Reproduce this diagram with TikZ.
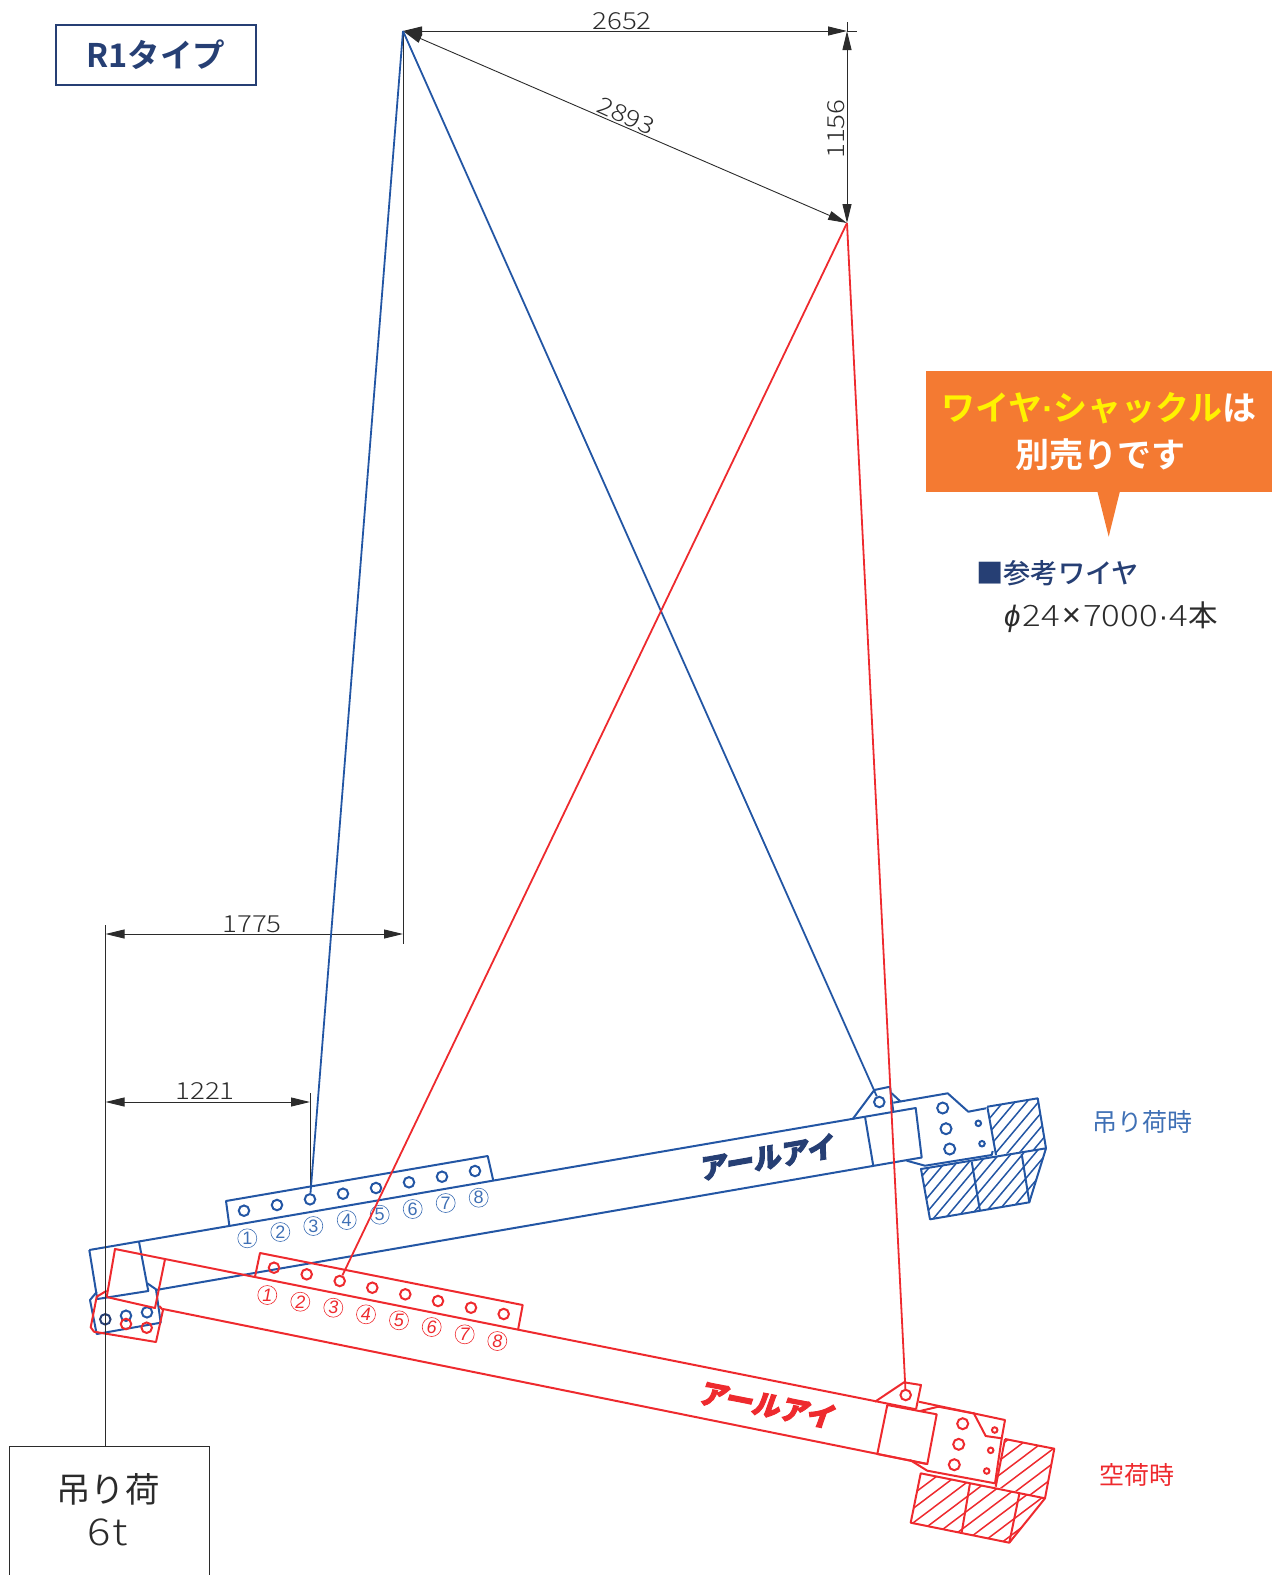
\documentclass[tikz,border=0pt]{standalone}
\usepackage{fontspec}
\usetikzlibrary{arrows.meta}
\setmainfont{Liberation Sans}
\newfontfamily\jp{Noto Sans CJK JP}
\newfontfamily\jpm{Noto Sans CJK JP Medium}
\newfontfamily\jpb{Noto Sans CJK JP Bold}
\newfontfamily\jplogo{Noto Sans CJK JP Black}[FakeBold=3.5]
\newfontfamily\num{Noto Sans CJK JP Light}[FakeStretch=1.18]
\newfontfamily\numit{Liberation Sans Italic}
\newfontfamily\latb{Liberation Sans Bold}
\definecolor{wblue}{HTML}{2356A4}
\definecolor{wred}{HTML}{EE2A2E}
\definecolor{navy}{HTML}{263F74}
\definecolor{dimc}{HTML}{2B2B2B}
\definecolor{orng}{HTML}{F47A32}
\definecolor{lblue}{HTML}{3F70B5}
\newcommand{\fs}[1]{\fontsize{#1pt}{#1pt}\selectfont}
\newcommand{\hatchpoly}[5]{% colour, polygon, centre, angle, spacing
  \begin{scope}
    \clip #2;
    \foreach \k in {-14,...,14}
      \draw[#1,line width=1.5pt,shift={#3},rotate=#4] (-160,\k*#5) -- (160,\k*#5);
  \end{scope}}
\tikzset{
  bl/.style={draw=wblue,line width=2pt,line join=round},
  rd/.style={draw=wred,line width=2pt,line join=round},
  dimline/.style={draw=dimc,line width=0.9pt},
  dimarrow/.style={dimline,{Triangle[length=19pt,width=9pt]}-{Triangle[length=19pt,width=9pt]}},
  dimtext/.style={text=dimc,font=\num\fs{23.5}},
  hole/.style={circle,inner sep=0pt,minimum size=#1,line width=2pt},
  cnum/.style={circle,draw,inner sep=0pt,minimum size=19pt,line width=0.6pt,font=\fs{18}},
}
\begin{document}
\begin{tikzpicture}[x=1pt,y=-1pt]
\useasboundingbox (0,0) rectangle (1272,1575);
% key points
\coordinate (apexB) at (403,31);
\coordinate (apexR) at (847,223);
\coordinate (dimTR) at (847,31);
\coordinate (dimTRx) at (857,31);
\coordinate (dimTRt) at (847,22);
\coordinate (apexFoot) at (403,944);
\coordinate (d17L) at (105.5,934);
\coordinate (d17R) at (403,934);
\coordinate (d12L) at (105.5,1102);
\coordinate (d12R) at (310,1102);
\coordinate (v12t) at (310,1093);
\coordinate (vLt) at (105.5,925);
\coordinate (vLb) at (105.5,1447);

% ---------- blue assembly
\draw[bl] (89.3,1250) -- (915.7,1108) -- (921.7,1157.5) -- (156,1290);
\draw[bl] (139,1241.7) -- (148.3,1291) -- (97.3,1299) -- (89.3,1250);
\draw[bl] (96.7,1292) -- (90,1300) -- (96.7,1334) -- (160.7,1322.7) -- (156,1289.3) -- (147.3,1283.3);
\draw[bl] (229.3,1225.3) -- (226,1201) -- (487.7,1156) -- (493.3,1180.7);
\draw[bl] (865,1116.7) -- (873.3,1166);
\draw[bl] (852.7,1119) -- (874.3,1090) -- (890,1086.7) -- (893.3,1111.7);
\draw[bl] (891.7,1093.3) -- (900.7,1101.7);
\draw[bl] (893.3,1102.7) -- (947.7,1093.3) -- (968.3,1111.7) -- (986,1108.3);
\draw[bl] (906.7,1160.7) -- (925,1165.7) -- (991.7,1155) -- (992.7,1151);
\hatchpoly{wblue}{(987.3,1106.7) -- (1037.7,1098.3) -- (1046,1148.3) -- (996,1155) -- cycle}{(1015,1130)}{50}{9}
\hatchpoly{wblue}{(921,1169) -- (1046,1148.3) -- (1029.3,1202.3) -- (930,1219.3) -- cycle}{(985,1185)}{50}{9}
\draw[bl] (987.3,1106.7) -- (1037.7,1098.3) -- (1046,1148.3) -- (921,1169) -- (930,1219.3) -- (1029.3,1202.3) -- (1046,1148.3);
\draw[bl] (987.3,1106.7) -- (996,1155);
\draw[bl] (971.7,1161.7) -- (980,1211);
\draw[bl] (1021.7,1154) -- (1029.3,1202.3);
\foreach \n/\x/\y in {1/244/1210.7,2/277/1205,3/310/1199.3,4/343/1193.7,5/376/1188,6/409/1182.3,7/442/1176.7,8/475/1171}
  \node[hole=10.5pt,draw=wblue] (bh\n) at (\x,\y) {};
\foreach \n/\x/\y in {1/247.3/1238.3,2/280.3/1232,3/313.3/1226,4/346.7/1220,5/379.7/1214.7,6/412.7/1209,7/445.7/1203,8/478.7/1197.7}
  \node[cnum,draw=lblue,text=lblue] (bn\n) at (\x,\y) {\n};
\node[hole=10.5pt,draw=navy] (bp1) at (105.3,1319.3) {};
\node[hole=10.5pt,draw=wblue] (bp2) at (126,1315.7) {};
\node[hole=10.5pt,draw=wblue] (bp3) at (147,1312.3) {};
\node[hole=10.5pt,draw=wblue] (blug) at (879.3,1102) {};
\node[hole=11pt,draw=wblue] (bb1) at (942.7,1108) {};
\node[hole=11pt,draw=wblue] (bb2) at (946,1128.7) {};
\node[hole=11pt,draw=wblue] (bb3) at (949.7,1149) {};
\node[hole=5.5pt,draw=wblue] (bs1) at (978.3,1123.3) {};
\node[hole=5.5pt,draw=wblue] (bs2) at (982,1143.7) {};
\node[text=navy,font=\jplogo\fs{28},rotate=10,inner sep=0pt,xslant=0.15] (blogo) at (768,1157) {アールアイ};

% ---------- red assembly
\draw[rd] (106.7,1297) -- (115,1249) -- (916,1409.3);
\draw[rd] (163,1309) -- (927.3,1464);
\draw[rd] (106.7,1297) -- (155,1308) -- (165,1259.3);
\draw[rd] (106.7,1290.7) -- (96.7,1296.7) -- (90.7,1327.3) -- (94,1331.7) -- (156,1342) -- (163,1310) -- (159.3,1306);
\draw[rd] (255,1276.7) -- (260,1253) -- (522.7,1305) -- (518,1330);
\draw[rd] (887.3,1405) -- (936.7,1414.3) -- (927.3,1464) -- (877.3,1454) -- cycle;
\draw[rd] (875,1401.7) -- (904,1382.3) -- (921,1385) -- (916,1409.3);
\draw[rd] (918.7,1401.7) -- (1005,1420) -- (1001.7,1438.3) -- (985.7,1436) -- (973.3,1412.3);
\draw[rd] (920,1411) -- (938.3,1406.7) -- (973.3,1413.3);
\draw[rd] (1001.7,1438.3) -- (995,1483.3) -- (927.3,1470.7) -- (910,1460);
\hatchpoly{wred}{(1005,1439) -- (1054.3,1448.7) -- (1045,1498.3) -- (995.7,1486.7) -- cycle}{(1025,1470)}{37}{11.5}
\hatchpoly{wred}{(920.7,1473.3) -- (1045,1498.3) -- (1009.3,1542.7) -- (910.7,1522.7) -- cycle}{(975,1505)}{37}{11.5}
\draw[rd] (1005,1439) -- (1054.3,1448.7) -- (1045,1498.3) -- (920.7,1473.3) -- (910.7,1522.7) -- (1009.3,1542.7) -- (1045,1498.3);
\draw[rd] (1005,1439) -- (995.7,1486.7);
\draw[rd] (970,1483.3) -- (961.7,1532.3);
\draw[rd] (1019.3,1494) -- (1009.3,1542.7);
\foreach \n/\x/\y in {1/274/1267.7,2/306.7/1274.3,3/339.7/1281,4/372.3/1287.7,5/405.3/1294.3,6/438/1301,7/471/1307.7,8/503.7/1314}
  \node[hole=10.5pt,draw=wred] (rh\n) at (\x,\y) {};
\foreach \n/\x/\y in {1/267.3/1295,2/300.3/1301.7,3/333.3/1307.7,4/366/1314.3,5/399/1320.3,6/431.7/1327,7/464.7/1334.3,8/497.3/1341}
  \node[cnum,draw=wred,text=wred,font=\numit\fs{18}] (rn\n) at (\x,\y) {\n};
\node[hole=10.5pt,draw=wred] (rp2) at (126,1324) {};
\node[hole=10.5pt,draw=wred] (rp3) at (146.7,1327.7) {};
\node[hole=10.5pt,draw=wred] (rlug) at (905.7,1395) {};
\node[hole=11pt,draw=wred] (rb1) at (962.7,1423.7) {};
\node[hole=11pt,draw=wred] (rb2) at (958.7,1444.3) {};
\node[hole=11pt,draw=wred] (rb3) at (954.3,1464.7) {};
\node[hole=5.5pt,draw=wred] (rs1) at (994.7,1430) {};
\node[hole=5.5pt,draw=wred] (rs2) at (990.7,1450.3) {};
\node[hole=5.5pt,draw=wred] (rs3) at (986.7,1471) {};
\node[text=wred,font=\jplogo\fs{28},rotate=-11,inner sep=0pt,xslant=0.15] (rlogo) at (768,1405) {アールアイ};

% ---------- dimension lines
\draw[dimline] (apexB) -- (apexFoot);
\draw[dimline] (vLt) -- (vLb);
\draw[dimline] (v12t) -- (bh3);
\draw[dimarrow] (d17L) -- (d17R);
\draw[dimarrow] (d12L) -- (d12R);
\draw[dimline] (dimTR) -- (dimTRx);
\draw[dimarrow] (apexB) -- (dimTR);
\draw[dimarrow] (dimTR) -- (apexR);
\draw[dimline] (dimTRt) -- (dimTR);
\draw[dimarrow] (apexB) -- (apexR);
\node[dimtext] (t2652) at (622,21) {2652};
\node[dimtext,rotate=-24.5,inner sep=0pt] (t2893) at (626,116) {2893};
\node[dimtext,rotate=90] (t1156) at (836,129) {1156};
\node[dimtext] (t1775) at (252,924) {1775};
\node[dimtext] (t1221) at (205,1091) {1221};

% ---------- wires
\draw[draw=wblue,line width=1.8pt] (apexB) -- (bh3);
\draw[draw=wblue,line width=1.8pt] (apexB) -- (blug);
\draw[draw=wred,line width=1.8pt] (apexR) -- (rh3);
\draw[draw=wred,line width=1.8pt] (apexR) -- (rlug);

% ---------- labels
\node[draw=navy,line width=1.1pt,minimum width=200pt,minimum height=60pt,inner sep=0pt,text=navy,font=\jpb\fs{32.5}] (r1) at (156,55) {R1タイプ};
\fill[orng] (926,371) rectangle (1272,492);
\fill[orng] (1097.3,491) -- (1120,491) -- (1108.7,536.7) -- cycle;
\node[inner sep=0pt,font=\jpb\fs{34},text=white] (c1) at (1099,408) {\textcolor{yellow}{ワイヤ{\latb ·}シャックル}は};
\node[inner sep=0pt,font=\jpb\fs{34},text=white] (c2) at (1100,455) {別売りです};
\node[inner sep=0pt,anchor=west,text=navy,font=\jpm\fs{27.3}] (s1) at (976,573) {■参考ワイヤ};
\node[inner sep=0pt,anchor=west,text=dimc,font=\num\fs{29.5}] (s2) at (1004,617) {{\numit ϕ}\kern2pt 24\kern2pt{\rmfamily\fs{33}×}\kern2pt 7000\kern1pt{\rmfamily·}\kern1pt 4{\jp 本}};
\node[inner sep=0pt,text=lblue,font=\jp\fs{25}] (lb) at (1142,1122) {吊り荷時};
\node[inner sep=0pt,text=wred,font=\jp\fs{25}] (lr) at (1137,1475) {空荷時};
\draw[dimc,line width=1pt] (9,1575) -- (9,1446) -- (209,1446) -- (209,1575);
\node[inner sep=0pt,text=dimc,font=\jp\fs{34.5}] (box1) at (108,1489) {吊り荷};
\node[inner sep=0pt,text=dimc,font=\num\fs{37}] (box2) at (108,1532) {6\kern2pt t};
\end{tikzpicture}
\end{document}
